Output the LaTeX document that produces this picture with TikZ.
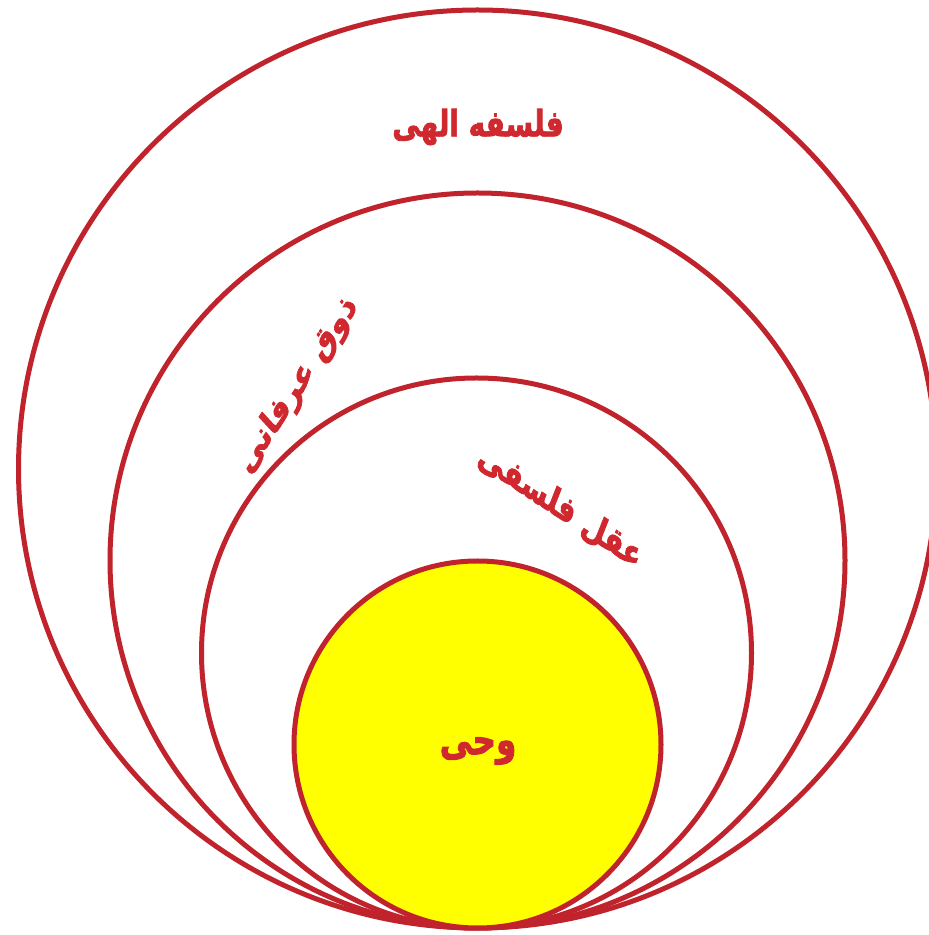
\documentclass[tikz,border=0pt]{standalone}
\usepackage{fontspec}
\newfontfamily\arabicfont[Script=Arabic,BoldFont={DejaVu Sans Bold},BoldFeatures={FakeBold=2.5}]{DejaVu Sans}
\TeXXeTstate=1
\definecolor{ringred}{HTML}{C0232B}
\definecolor{textred}{HTML}{D0282F}
\definecolor{sunyellow}{HTML}{FFFF00}
\begin{document}
\begin{tikzpicture}[x=1pt,y=1pt,
  ring/.style={draw=ringred,line width=5pt},
  lbl/.style={text=textred,font=\arabicfont\bfseries\fontsize{30}{36}\selectfont,inner sep=0pt,yscale=1.2,xscale=0.93}]
\useasboundingbox (0,0) rectangle (929,935);
\clip (0,0) rectangle (929,935);
\fill[white] (0,0) rectangle (929,935);
\draw[ring] (477.5,466) circle (459);
\draw[ring] (477.5,374.5) circle (367.5);
\draw[ring] (476.5,282) circle (275);
\draw[ring,fill=sunyellow] (477.5,190.5) circle (183.5);
\node[lbl,transform shape] (falsafe) at (478,808) {\beginR فلسفه الهی\endR};
\node[lbl,rotate=50,transform shape] (zowq) at (298,550) {\beginR ذوق عرفانی\endR};
\node[lbl,rotate=-27,transform shape] (aql) at (560,428) {\beginR عقل فلسفی\endR};
\node[lbl,transform shape,font=\arabicfont\bfseries\fontsize{35}{40}\selectfont] (vahy) at (478,184) {\beginR وحی\endR};
\end{tikzpicture}
\end{document}
